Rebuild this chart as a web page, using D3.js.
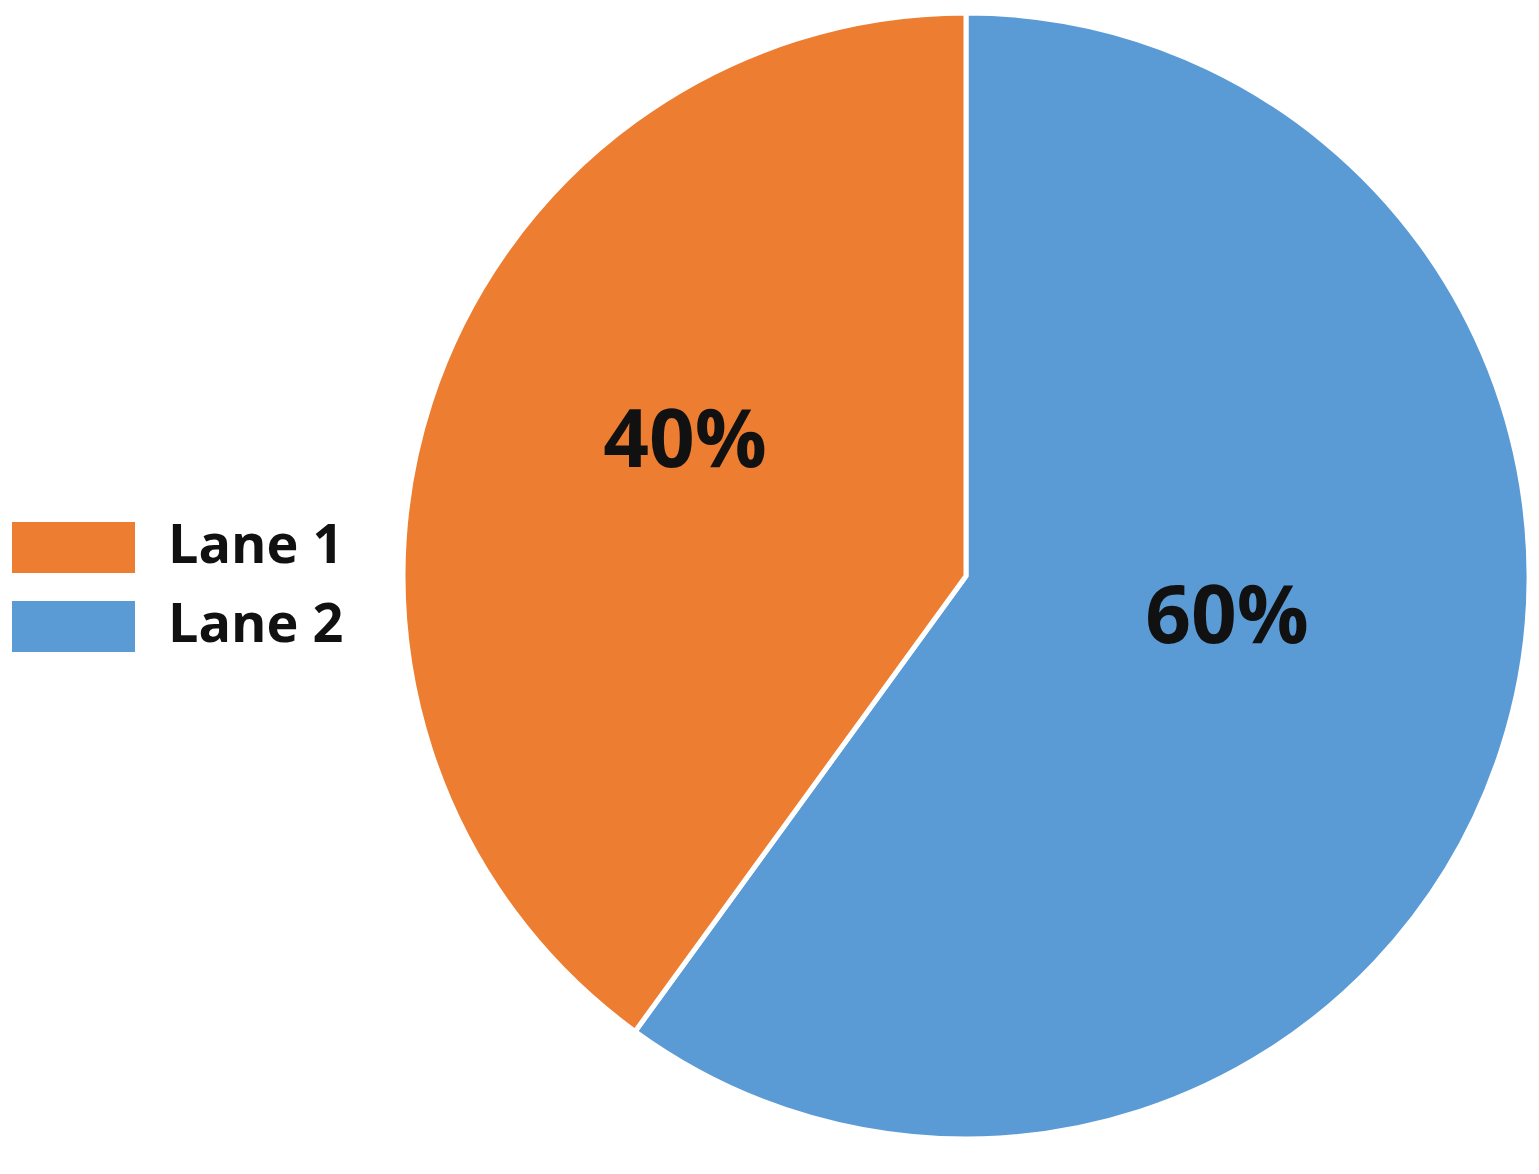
<!DOCTYPE html>
<html>
<head>
<meta charset="utf-8">
<script src="https://cdn.jsdelivr.net/npm/d3@7"></script>
<style>
  body { margin: 0; background: #fff; }
  text { font-family: "Open Sans", Lato, sans-serif; font-weight: bold; }
</style>
</head>
<body>
<div id="chart"></div>
<script>
var width = 1539;
var height = 1174;
var cx = 966;
var cy = 576;
var radius = 563;

// data
var lanes = ["Lane 2", "Lane 1"];
var shares = [60, 40];
var legendOrder = ["Lane 1", "Lane 2"];
var colors = { "Lane 1": "#ED7D31", "Lane 2": "#5B9BD5" };

var svg = d3.select("#chart").append("svg")
      .attr("width", width)
      .attr("height", height);

var data = lanes.map((d, i) => ({ lane: d, value: shares[i] }));

var pie = d3.pie()
      .sort(null)
      .value(d => d.value);

var arc = d3.arc()
      .innerRadius(0)
      .outerRadius(radius);

var labelArc = d3.arc()
      .innerRadius(285)
      .outerRadius(285);

var plot = svg.append("g")
      .attr("transform", "translate(" + cx + "," + cy + ")");

// slices
plot.selectAll("path")
      .data(pie(data))
  .enter()
      .append("path")
      .attr("d", arc)
      .style("fill", d => colors[d.data.lane])
      .style("stroke", "#fff")
      .style("stroke-width", 5)
      .style("stroke-linejoin", "round");

// percent labels
plot.selectAll("text.pct")
      .data(pie(data))
  .enter()
      .append("text")
      .attr("class", "pct")
      .attr("x", d => labelArc.centroid(d)[0] - 10)
      .attr("y", d => labelArc.centroid(d)[1] - 50)
      .attr("dy", "0.36em")
      .style("text-anchor", "middle")
      .style("font-size", "80px")
      .style("fill", "#111")
      .text(d => d.data.value + "%");

// legend
var legend = svg.append("g")
      .attr("transform", "translate(12, 522)");

var item = legend.selectAll("g")
      .data(legendOrder)
  .enter()
      .append("g")
      .attr("transform", (d, i) => "translate(0," + (i * 79) + ")");

item.append("rect")
      .attr("width", 123)
      .attr("height", 51)
      .style("fill", d => colors[d]);

item.append("text")
      .attr("x", 156)
      .attr("y", 41)
      .style("font-size", "54px")
      .style("fill", "#111")
      .text(d => d);
</script>
</body>
</html>
